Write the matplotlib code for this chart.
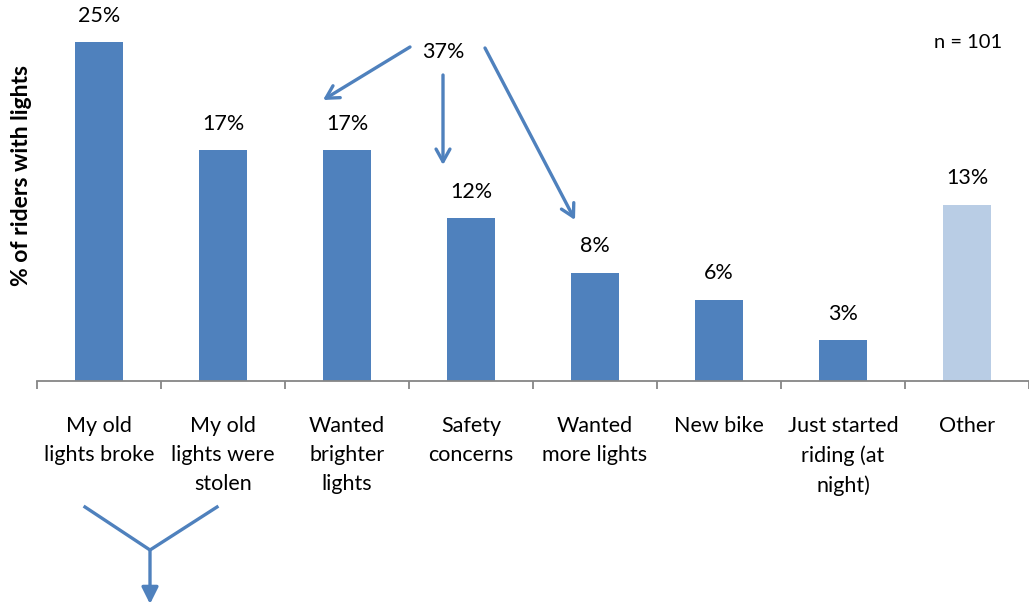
import matplotlib
matplotlib.use("Agg")
import matplotlib.pyplot as plt
from matplotlib.patches import FancyArrowPatch

categories = ["My old\nlights broke", "My old\nlights were\nstolen", "Wanted\nbrighter\nlights",
              "Safety\nconcerns", "Wanted\nmore lights", "New bike", "Just started\nriding (at\nnight)", "Other"]
values = [25, 17, 17, 12, 8, 6, 3, 13]
labels = ["25%", "17%", "17%", "12%", "8%", "6%", "3%", "13%"]
colors = ["#4F81BD"] * 7 + ["#B9CDE5"]

plt.rcParams['font.family'] = ['Lato', 'DejaVu Sans']

W, H = 1029, 604
fig = plt.figure(figsize=(W/100, H/100), dpi=100)
ax = fig.add_axes([37/W, (H-381)/H, 1 - 37/W, 381/H])

x = list(range(len(values)))
ax.bar(x, values, width=0.39, color=colors)
ax.set_xlim(-0.5, len(values) - 0.5)
ax.set_ylim(0, 381/13.56)

for xi, v, lab in zip(x, values, labels):
    ax.annotate(lab, (xi, v), xytext=(0, 19), textcoords="offset points",
                ha="center", va="center", fontsize=15.5)

for s in ["top", "right", "left"]:
    ax.spines[s].set_visible(False)
ax.spines["bottom"].set_color("#868686")
ax.spines["bottom"].set_linewidth(1.3)
ax.set_yticks([])
ax.set_xticks(x)
ax.set_xticklabels(categories, fontsize=15.5, linespacing=1.58, va="top")
ax.tick_params(axis="x", which="major", length=0, pad=25)
ax.set_xticks([i - 0.5 for i in range(len(values) + 1)], minor=True)
ax.tick_params(axis="x", which="minor", length=6, width=1.3, color="#868686")

fig.text(22/W, 1 - 175/H, "% of riders with lights", rotation=90, ha="center", va="center",
         fontsize=16.5, fontweight="bold")
fig.text(968/W, 1 - 42/H, "n = 101", ha="center", va="center", fontsize=14.5)
fig.text(443/W, 1 - 52/H, "37%", ha="center", va="center", fontsize=15.5)

c = "#4F81BD"
def px(xp, yp):
    return (xp/W, 1 - yp/H)

for (x0, y0), (x1, y1) in [((410, 47), (323, 100)), ((443, 75), (443, 165)), ((485, 48), (575, 220))]:
    a = FancyArrowPatch(px(x0, y0), px(x1, y1), transform=fig.transFigure,
                        arrowstyle="->,head_length=9,head_width=5", color=c, lw=2.4,
                        shrinkA=0, shrinkB=0)
    fig.patches.append(a)

fig.lines.append(plt.Line2D([85/W, 150/W, 217/W], [1 - 507/H, 1 - 550/H, 1 - 507/H],
                            transform=fig.transFigure, color=c, lw=2.4))
a = FancyArrowPatch(px(150, 550), px(150, 604), transform=fig.transFigure,
                    arrowstyle="-|>,head_length=10,head_width=5", color=c, lw=2.4,
                    shrinkA=0, shrinkB=0)
fig.patches.append(a)

fig.savefig("out.png", dpi=100)
